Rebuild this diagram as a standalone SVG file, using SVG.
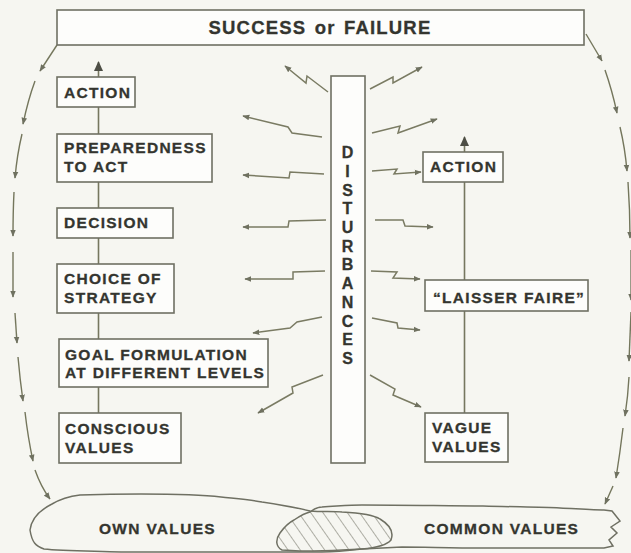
<svg xmlns="http://www.w3.org/2000/svg" width="631" height="553" viewBox="0 0 631 553">
  <style>
    .box { fill: #fdfdfb; stroke: #6f7063; stroke-width: 1.6; }
    .lbl { font-family: "Liberation Sans", Arial, sans-serif; font-weight: bold; font-size: 15.5px; letter-spacing: 1.3px; fill: #34352f; stroke: #34352f; stroke-width: 0.3; }
    .col { font-family: "Liberation Sans", Arial, sans-serif; font-weight: bold; font-size: 16px; fill: #34352f; stroke: #34352f; stroke-width: 0.3; text-anchor: middle; }
    .ln { fill: none; stroke: #76775f; stroke-width: 1.6; }
    .bolt { fill: none; stroke: #7a7b63; stroke-width: 1.5; stroke-linejoin: miter; marker-end: url(#tip); }
    .arc { fill: none; stroke: #74765c; stroke-width: 1.4; marker-end: url(#tip); }
    .blob { fill: none; stroke: #6f7063; stroke-width: 1.5; }
  </style>
  <defs>
    <marker id="tip" viewBox="0 0 10 10" refX="9" refY="5" markerWidth="7" markerHeight="7" orient="auto" markerUnits="userSpaceOnUse">
      <path d="M0,1 L10,5 L0,9 z" fill="#6f7160"/>
    </marker>
    <marker id="bigtip" viewBox="0 0 10 10" refX="9" refY="5" markerWidth="10" markerHeight="10" orient="auto" markerUnits="userSpaceOnUse">
      <path d="M0,0.5 L10,5 L0,9.5 z" fill="#4d4e45"/>
    </marker>
    <pattern id="hatch" patternUnits="userSpaceOnUse" width="10" height="10" patternTransform="rotate(-35)">
      <line x1="0" y1="0" x2="0" y2="10" stroke="#6f7063" stroke-width="1.1"/>
    </pattern>
    <clipPath id="ownClip">
      <path d="M30,530 C31,522 36,512 52,504 C62,498 72,496 80,495 C110,494 130,494 141,494 C180,494 205,495 221,497 C240,499 252,500 262,502 C282,505 298,508 310,511 C322,512 334,511 342,512 C360,513 374,515 380,519 C390,525 394,532 391,540 C386,546 374,548 362,549 C345,551 333,552 322,552 C290,552 270,552 250,552 C200,552 160,552 121,552 C90,551 62,551 44,549 C36,546 32,543 30,530 Z"/>
    </clipPath>
  </defs>

  <rect x="0" y="0" width="631" height="553" fill="#f6f6f1"/>

  <g id="connectors">
    <!-- left chain -->
    <line class="ln" x1="98.5" y1="413" x2="98.5" y2="107"/>
    <line class="ln" x1="98.5" y1="77" x2="98.5" y2="62" marker-end="url(#bigtip)"/>
    <!-- right chain -->
    <line class="ln" x1="464.5" y1="413" x2="464.5" y2="182"/>
    <line class="ln" x1="464.5" y1="152" x2="464.5" y2="137" marker-end="url(#bigtip)"/>

    <!-- disturbance bolts, left -->
    <polyline class="bolt" points="328,92 307,76 306,83 285,66"/>
    <polyline class="bolt" points="322,137 292,133 288,127 243,116"/>
    <polyline class="bolt" points="324,174 290,172 289,178 243,175"/>
    <polyline class="bolt" points="326,220 289,221 288,227 243,227"/>
    <polyline class="bolt" points="325,271 293,272 293,279 245,279"/>
    <polyline class="bolt" points="322,317 297,322 290,328 253,333"/>
    <polyline class="bolt" points="323,375 292,387 293,393 258,413"/>
    <!-- disturbance bolts, right -->
    <polyline class="bolt" points="370,89 393,77 393,83 422,67"/>
    <polyline class="bolt" points="372,133 400,126 398,133 437,119"/>
    <polyline class="bolt" points="372,171 397,169 394,174 421,172"/>
    <polyline class="bolt" points="375,220 403,220 405,226 433,227"/>
    <polyline class="bolt" points="371,271 397,272 393,278 420,279"/>
    <polyline class="bolt" points="372,318 397,323 398,328 420,330"/>
    <polyline class="bolt" points="370,375 395,389 393,395 421,407"/>

    <!-- feedback arc, left -->
    <path class="arc" d="M57,45 L40,71"/>
    <path class="arc" d="M35,81 Q28,100 23,124"/>
    <path class="arc" d="M22,134 Q17,155 15,178"/>
    <path class="arc" d="M14,192 Q13,212 13,236"/>
    <path class="arc" d="M13,252 L13,297"/>
    <path class="arc" d="M15,313 L17,343"/>
    <path class="arc" d="M18,357 Q20,380 23,401"/>
    <path class="arc" d="M25,412 Q28,438 33,461"/>
    <path class="arc" d="M35,470 Q41,487 50,499"/>
    <!-- feedback arc, right -->
    <path class="arc" d="M586,34 L602,61"/>
    <path class="arc" d="M605,70 Q612,90 617,113"/>
    <path class="arc" d="M620,127 Q625,148 627,171"/>
    <path class="arc" d="M628,182 Q630,210 630,238"/>
    <path class="arc" d="M631,250 L631,300"/>
    <path class="arc" d="M631,312 L629,361"/>
    <path class="arc" d="M629,377 Q628,396 625,416"/>
    <path class="arc" d="M623,428 Q620,453 616,478"/>
    <path class="arc" d="M613,486 L605,504"/>
  </g>

  <g id="success">
    <rect class="box" x="57" y="10" width="527" height="35"/>
    <text class="lbl" x="320" y="34" text-anchor="middle" style="font-size:18.5px;letter-spacing:1.2px;word-spacing:2px">SUCCESS or FAILURE</text>
  </g>

  <g id="action-left">
    <rect class="box" x="57" y="77" width="78" height="30"/>
    <text class="lbl" x="64" y="98">ACTION</text>
  </g>
  <g id="preparedness">
    <rect class="box" x="57" y="134" width="155" height="48"/>
    <text class="lbl" x="64" y="153">PREPAREDNESS</text>
    <text class="lbl" x="64" y="172">TO ACT</text>
  </g>
  <g id="decision">
    <rect class="box" x="57" y="208" width="116" height="30"/>
    <text class="lbl" x="64" y="228">DECISION</text>
  </g>
  <g id="strategy">
    <rect class="box" x="57" y="264" width="117" height="49"/>
    <text class="lbl" x="64" y="284">CHOICE OF</text>
    <text class="lbl" x="64" y="303">STRATEGY</text>
  </g>
  <g id="goals">
    <rect class="box" x="59" y="339" width="209" height="48"/>
    <text class="lbl" x="65" y="360">GOAL FORMULATION</text>
    <text class="lbl" x="65" y="378">AT DIFFERENT LEVELS</text>
  </g>
  <g id="conscious">
    <rect class="box" x="59" y="413" width="122" height="50"/>
    <text class="lbl" x="65" y="434">CONSCIOUS</text>
    <text class="lbl" x="65" y="453">VALUES</text>
  </g>

  <g id="disturbances">
    <rect class="box" x="331" y="76" width="34" height="387"/>
    <text class="col" x="347.5" y="158">D</text>
    <text class="col" x="347.5" y="176.7">I</text>
    <text class="col" x="347.5" y="195.5">S</text>
    <text class="col" x="347.5" y="214.2">T</text>
    <text class="col" x="347.5" y="232.9">U</text>
    <text class="col" x="347.5" y="251.7">R</text>
    <text class="col" x="347.5" y="270.4">B</text>
    <text class="col" x="347.5" y="289.1">A</text>
    <text class="col" x="347.5" y="307.8">N</text>
    <text class="col" x="347.5" y="326.6">C</text>
    <text class="col" x="347.5" y="345.3">E</text>
    <text class="col" x="347.5" y="364">S</text>
  </g>

  <g id="action-right">
    <rect class="box" x="423" y="152" width="80" height="30"/>
    <text class="lbl" x="430" y="172">ACTION</text>
  </g>
  <g id="laisser-faire">
    <rect class="box" x="425" y="280" width="163" height="31"/>
    <text class="lbl" x="433" y="303">“LAISSER FAIRE”</text>
  </g>
  <g id="vague">
    <rect class="box" x="425" y="413" width="83" height="49"/>
    <text class="lbl" x="432" y="433">VAGUE</text>
    <text class="lbl" x="432" y="452">VALUES</text>
  </g>

  <g id="values-base">
    <!-- overlap of own and common values -->
    <path d="M282,550 C276,547 275,540 280,533 C285,526 290,522 294,520 C300,516 305,513 310,512 C314,509 318,507 322,507 C340,506 350,505 362,505 C410,505 450,506 483,506 C520,507 540,507 560,508 C580,509 595,510 604,510 L612,511 L616,516 L620,521 L611,527 L617,533 L609,540 L613,546 L604,548 C560,548 520,548 483,548 C450,548 425,547 402,547 C380,548 360,549 342,550 C325,551 310,551 300,551 Z" fill="url(#hatch)" clip-path="url(#ownClip)"/>
    <!-- own values outline -->
    <path class="blob" d="M30,530 C31,522 36,512 52,504 C62,498 72,496 80,495 C110,494 130,494 141,494 C180,494 205,495 221,497 C240,499 252,500 262,502 C282,505 298,508 310,511 C322,512 334,511 342,512 C360,513 374,515 380,519 C390,525 394,532 391,540 C386,546 374,548 362,549 C345,551 333,552 322,552 C290,552 270,552 250,552 C200,552 160,552 121,552 C90,551 62,551 44,549 C36,546 32,543 30,530 Z"/>
    <!-- common values outline -->
    <path class="blob" d="M282,550 C276,547 275,540 280,533 C285,526 290,522 294,520 C300,516 305,513 310,512 C314,509 318,507 322,507 C340,506 350,505 362,505 C410,505 450,506 483,506 C520,507 540,507 560,508 C580,509 595,510 604,510 L612,511 L616,516 L620,521 L611,527 L617,533 L609,540 L613,546 L604,548 C560,548 520,548 483,548 C450,548 425,547 402,547 C380,548 360,549 342,550 C325,551 310,551 300,551 Z"/>
    <text class="lbl" x="99" y="534">OWN VALUES</text>
    <text class="lbl" x="424" y="534">COMMON VALUES</text>
  </g>
</svg>
